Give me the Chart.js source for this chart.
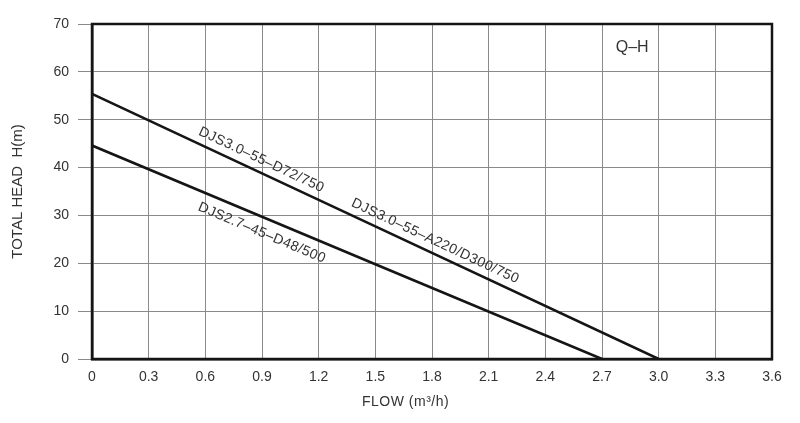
<!DOCTYPE html>
<html>
<head>
<meta charset="utf-8">
<script src="https://cdn.jsdelivr.net/npm/chart.js@4.4.1/dist/chart.umd.min.js"></script>
<style>
  html, body { margin: 0; padding: 0; background: #fff; }
  #wrap { width: 800px; height: 423px; }
</style>
</head>
<body>
<div id="wrap"><canvas id="qh"></canvas></div>
<script>
// curve data
var flowA = [0, 1.5, 3.0];
var headA = [55.4, 27.7, 0];
var flowB = [0, 1.5, 2.7];
var headB = [44.6, 19.8, 0];

var xTicks = [0, 0.3, 0.6, 0.9, 1.2, 1.5, 1.8, 2.1, 2.4, 2.7, 3.0, 3.3, 3.6];
var yTicks = [0, 10, 20, 30, 40, 50, 60, 70];

var curveLabels = [
    { text: 'DJS3.0\u201355\u2013D72/750', dataset: 0, x: 0.87, offset: -12 },
    { text: 'DJS3.0\u201355\u2013A220/D300/750', dataset: 0, x: 1.79, offset: -12 },
    { text: 'DJS2.7\u201345\u2013D48/500', dataset: 1, x: 0.93, offset: 15 }
];

var toPoints = function(xs, ys) {
    return xs.map(function(x, i) { return { x: x, y: ys[i] }; });
};

var lineColor = '#151515';
var gridColor = '#8a8a8a';
var textColor = '#333333';
var font = 'Liberation Sans, Arial, Helvetica, sans-serif';

// frame, titles and text drawn along the curves
var decorations = {
    id: 'decorations',
    afterDatasetsDraw: function(chart) {
        var ctx = chart.ctx;
        var area = chart.chartArea;
        var xs = chart.scales.x, ys = chart.scales.y;

        ctx.save();
        ctx.strokeStyle = lineColor;
        ctx.lineWidth = 2.5;
        ctx.strokeRect(area.left, area.top, area.right - area.left, area.bottom - area.top);

        ctx.fillStyle = textColor;
        ctx.textAlign = 'center';
        ctx.textBaseline = 'middle';
        ctx.font = '16px ' + font;
        ctx.fillText('Q\u2013H', xs.getPixelForValue(2.86), ys.getPixelForValue(65));

        ctx.font = '14px ' + font;
        ctx.letterSpacing = '0.5px';
        ctx.fillText('FLOW (m\u00b3/h)', xs.getPixelForValue(1.66), area.bottom + 43);

        ctx.letterSpacing = '0.4px';
        curveLabels.forEach(function(lbl) {
            var pts = chart.data.datasets[lbl.dataset].data;
            var i = 0;
            while (i < pts.length - 2 && pts[i + 1].x < lbl.x) i++;
            var x0 = xs.getPixelForValue(pts[i].x), y0 = ys.getPixelForValue(pts[i].y);
            var x1 = xs.getPixelForValue(pts[i + 1].x), y1 = ys.getPixelForValue(pts[i + 1].y);
            var px = xs.getPixelForValue(lbl.x);
            var py = y0 + (y1 - y0) * (px - x0) / (x1 - x0);
            var angle = Math.atan2(y1 - y0, x1 - x0);
            ctx.save();
            ctx.translate(px, py);
            ctx.rotate(angle);
            ctx.fillText(lbl.text, 0, lbl.offset);
            ctx.restore();
        });
        ctx.restore();
    }
};

new Chart(document.getElementById('qh').getContext('2d'), {
    type: 'line',
    data: {
        datasets: [{
            label: 'DJS3.0-55',
            data: toPoints(flowA, headA),
            borderColor: lineColor,
            borderWidth: 2.6,
            pointRadius: 0,
            fill: false
        }, {
            label: 'DJS2.7-45',
            data: toPoints(flowB, headB),
            borderColor: lineColor,
            borderWidth: 2.6,
            pointRadius: 0,
            fill: false
        }]
    },
    options: {
        responsive: true,
        maintainAspectRatio: false,
        animation: false,
        layout: { padding: { left: 6, right: 28, top: 24, bottom: 4 } },
        plugins: {
            legend: { display: false },
            tooltip: { enabled: false }
        },
        scales: {
            x: {
                type: 'linear',
                min: 0,
                max: 3.6,
                afterBuildTicks: function(scale) {
                    scale.ticks = xTicks.map(function(v) { return { value: v }; });
                },
                afterFit: function(scale) { scale.height = 60; },
                grid: { color: gridColor, lineWidth: 1, drawTicks: false },
                border: { color: lineColor, width: 2.5 },
                ticks: {
                    color: textColor,
                    padding: 10,
                    font: { family: font, size: 14 },
                    callback: function(v) { return v === 0 ? '0' : v.toFixed(1); }
                }
            },
            y: {
                min: 0,
                max: 70,
                afterBuildTicks: function(scale) {
                    scale.ticks = yTicks.map(function(v) { return { value: v }; });
                },
                afterFit: function(scale) { scale.width = 86; },
                grid: { color: gridColor, lineWidth: 1, tickLength: 14 },
                border: { color: lineColor, width: 2.5 },
                ticks: {
                    color: textColor,
                    padding: 9,
                    font: { family: font, size: 14 }
                },
                title: {
                    display: true,
                    text: 'TOTAL HEAD  H(m)',
                    color: textColor,
                    font: { family: font, size: 15 },
                    padding: { top: 3, bottom: 0 }
                }
            }
        }
    },
    plugins: [decorations]
});
</script>
</body>
</html>
